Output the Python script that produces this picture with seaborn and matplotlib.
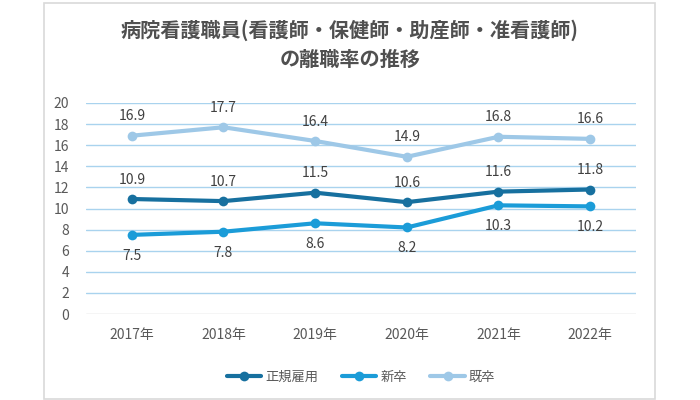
import matplotlib
matplotlib.use("Agg")
import matplotlib.pyplot as plt
import seaborn as sns
import pandas as pd
from matplotlib.patches import Rectangle

years = ["2017年", "2018年", "2019年", "2020年", "2021年", "2022年"]
seiki = [10.9, 10.7, 11.5, 10.6, 11.6, 11.8]
shinsotsu = [7.5, 7.8, 8.6, 8.2, 10.3, 10.2]
kisotsu = [16.9, 17.7, 16.4, 14.9, 16.8, 16.6]
series_names = ["正規雇用", "新卒", "既卒"]
yticks = [0, 2, 4, 6, 8, 10, 12, 14, 16, 18, 20]

colors = {"正規雇用": "#17709f", "新卒": "#1b9cd8", "既卒": "#9ec8e7"}

sns.set_theme(style="white")
plt.rcParams['font.family'] = ['Noto Sans CJK JP', 'DejaVu Sans']

rows = []
for name, vals in zip(series_names, [seiki, shinsotsu, kisotsu]):
    for i, (y, v) in enumerate(zip(years, vals)):
        rows.append({"year": y, "x": i, "value": v, "series": name})
df = pd.DataFrame(rows)

fig = plt.figure(figsize=(7, 4), dpi=100)
ax = fig.add_axes([86/700, 1-314/400, (636-86)/700, (314-103)/400])

# outer border
fig.patches.append(Rectangle((44/700, 1/400), (655-44)/700, (398-2)/400,
                             transform=fig.transFigure, fill=False,
                             edgecolor="#d9d9d9", linewidth=1.2))

for yv in yticks[1:]:
    ax.axhline(yv, color="#a9d3ee", linewidth=1.0, zorder=0)
ax.axhline(0, color="#d0d0d0", linewidth=1.0, zorder=0)

sns.lineplot(data=df, x="x", y="value", hue="series", hue_order=series_names,
             palette=colors, marker="o", markersize=7, linewidth=3,
             markeredgewidth=0, ax=ax, legend=True, sort=False)

offsets = {"正規雇用": 14, "新卒": -15, "既卒": 14}
for name, vals in zip(series_names, [seiki, shinsotsu, kisotsu]):
    for i, v in enumerate(vals):
        ax.annotate(f"{v:.1f}", (i, v), textcoords="offset points",
                    xytext=(0, offsets[name]), ha="center", va="center",
                    fontsize=10, color="#404040")

ax.set_xlim(-0.5, 5.5)
ax.set_ylim(0, 20)
ax.set_yticks(yticks)
ax.set_xticks(range(len(years)))
ax.set_xticklabels(years)
ax.tick_params(axis="both", length=0, labelsize=10, labelcolor="#595959")
ax.tick_params(axis="x", pad=10)
ax.tick_params(axis="y", pad=12)
ax.set_xlabel("")
ax.set_ylabel("")
for s in ax.spines.values():
    s.set_visible(False)

leg = ax.legend(loc="center", bbox_to_anchor=(0.5, -(377-314)/211), ncol=3,
                frameon=False, fontsize=9.5, handlelength=2.6,
                columnspacing=1.8, handletextpad=0.3)
for t in leg.get_texts():
    t.set_color("#595959")

fig.text(0.5, 1-30/400, "病院看護職員(看護師・保健師・助産師・准看護師)",
         ha="center", va="center", fontsize=14.5, color="#505050", fontweight="bold")
fig.text(0.5, 1-59/400, "の離職率の推移",
         ha="center", va="center", fontsize=14.5, color="#505050", fontweight="bold")

fig.savefig("out.png", dpi=100)
